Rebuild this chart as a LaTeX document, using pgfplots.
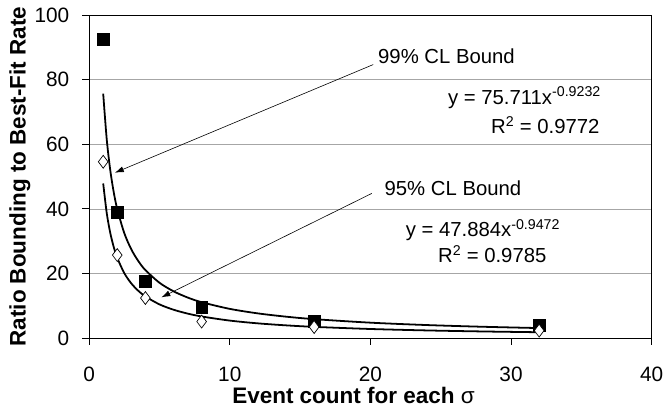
\documentclass[border=0pt]{standalone}
\usepackage{fontspec}
\setmainfont{Liberation Sans}
\usepackage{pgfplots}
\pgfplotsset{compat=1.18}
\usetikzlibrary{arrows.meta}
\begin{document}
\fontsize{20.5}{24}\selectfont
\begin{tikzpicture}
\begin{axis}[
  scale only axis,
  width=568pt, height=326pt,
  xmin=0, xmax=40, ymin=0, ymax=100,
  xtick={0,10,20,30,40}, ytick={0,20,40,60,80,100},
  tick align=outside, major tick length=7pt,
  xtick pos=left, ytick pos=left,
  ymajorgrids, grid style={gray!70, line width=0.8pt},
  axis line style={line width=1pt, black},
  tick style={line width=0.9pt, black},
  /pgf/number format/assume math mode=true,
  tick label style={font=\fontsize{21}{24}\selectfont},
  yticklabel style={xshift=-6pt},
  xticklabel style={yshift=-15pt},
  xlabel={\textbf{Event count for each} \textnormal{σ}},
  ylabel={\textbf{Ratio Bounding to Best-Fit Rate}},
  label style={font=\fontsize{22.7}{26}\selectfont},
  xlabel style={at={(axis description cs:0.470,-0.2025)}, anchor=base},
  ylabel style={at={(axis description cs:-0.1232,0.5)}, anchor=center},
  clip=false,
]
% 99% CL trendline: y = 75.711 x^-0.9232
\addplot[black, line width=1.8pt, smooth] coordinates {
(1,75.71) (1.25,61.62) (1.5,52.07) (1.75,45.16) (2,39.92) (2.5,32.49) (3,27.46)
(3.5,23.82) (4,21.05) (5,17.13) (6,14.48) (7,12.56) (8,11.10) (10,9.036)
(12,7.636) (14,6.623) (16,5.855) (20,4.765) (24,4.027) (28,3.493) (32,3.088)};
% 95% CL trendline: y = 47.884 x^-0.9472
\addplot[black, line width=1.8pt, smooth] coordinates {
(1,47.88) (1.25,38.76) (1.5,32.61) (1.75,28.18) (2,24.83) (2.5,20.10) (3,16.91)
(3.5,14.62) (4,12.88) (5,10.43) (6,8.772) (7,7.581) (8,6.680) (10,5.407)
(12,4.550) (14,3.932) (16,3.465) (20,2.805) (24,2.360) (28,2.039) (32,1.797)};
% 99% CL points
\addplot[only marks, mark=square*, mark size=6pt, black] coordinates {
(1,92.6) (2,39.0) (4,17.7) (8,9.5) (16,5.3) (32,4.0)};
% 95% CL points
\addplot[only marks, mark=diamond*, mark size=6.5pt, draw=black, fill=white, line width=0.7pt] coordinates {
(1,54.6) (2,25.7) (4,12.4) (8,5.1) (16,3.4) (32,2.3)};
% annotations
\draw[line width=0.6pt, -{Latex[length=9pt,width=6pt]}] (axis cs:20.2,84.7) -- (axis cs:1.83,51.2);
\draw[line width=0.6pt, -{Latex[length=9pt,width=6pt]}] (axis cs:20.1,44.8) -- (axis cs:5.14,12.6);
\node[anchor=base west, inner sep=0] at (axis cs:20.54,85.0) {99\% CL Bound};
\node[anchor=base east, inner sep=0] at (axis cs:36.4,72.4) {y = 75.711x\textsuperscript{-0.9232}};
\node[anchor=base east, inner sep=0] at (axis cs:36.3,63.2) {R\textsuperscript{2} = 0.9772};
\node[anchor=base west, inner sep=0] at (axis cs:21.0,44.2) {95\% CL Bound};
\node[anchor=base west, inner sep=0] at (axis cs:22.5,31.3) {y = 47.884x\textsuperscript{-0.9472}};
\node[anchor=base west, inner sep=0] at (axis cs:24.8,23.3) {R\textsuperscript{2} = 0.9785};
\end{axis}
\path ([xshift=-90pt,yshift=-73pt]current axis.south west) rectangle ([xshift=12pt,yshift=13pt]current axis.north east);
\end{tikzpicture}
\end{document}
